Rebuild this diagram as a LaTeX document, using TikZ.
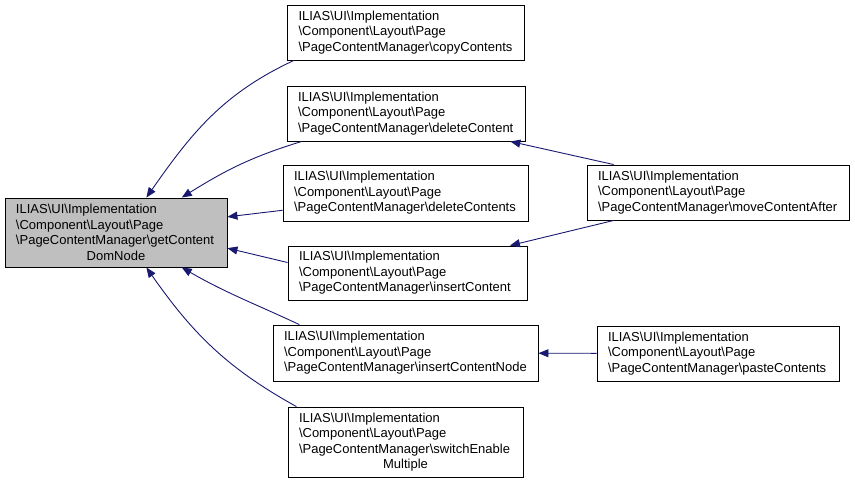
\documentclass[tikz,border=0pt]{standalone}
\usepackage{fontspec}
\setmainfont{Liberation Sans}
\usetikzlibrary{arrows.meta}
\definecolor{edgeblue}{HTML}{191970}
\definecolor{maingray}{HTML}{BFBFBF}
\newcommand{\bs}{\textbackslash}
\newcommand{\pcm}{ILIAS\bs UI\bs Implementation\\\bs Component\bs Layout\bs Page\\\bs PageContentManager\bs}
\begin{document}
\begin{tikzpicture}[x=1pt,y=-1pt,
    func/.style={draw=black, line width=0.9pt, fill=white, align=left,
      font=\fontsize{13}{15.5}\selectfont, inner xsep=11pt, inner ysep=0pt},
    caller/.style={draw=edgeblue, line width=0.9pt, -{Triangle[length=10pt,width=8pt]}}]
    \useasboundingbox (0,0) rectangle (855,482);

    \node [func, fill=maingray, text width=200pt, minimum height=69pt] (main) at (116, 232.5)
      {\pcm getContent\\\makebox[\hsize]{DomNode}};
    \node [func, text width=215pt, minimum height=55pt] (copy) at (406, 32.5) {\pcm copyContents};
    \node [func, text width=216pt, minimum height=55pt] (delC) at (406, 113.5) {\pcm deleteContent};
    \node [func, text width=223pt, minimum height=56pt] (delCs) at (405.5, 193) {\pcm deleteContents};
    \node [func, text width=217pt, minimum height=54pt] (ins) at (407.5, 273) {\pcm insertContent};
    \node [func, text width=243pt, minimum height=56pt] (insN) at (405.5, 353) {\pcm insertContentNode};
    \node [func, text width=213pt, minimum height=70pt] (sw) at (405.5, 442)
      {\pcm switchEnable\\\makebox[\hsize]{Multiple}};
    \node [func, text width=240pt, minimum height=55pt] (move) at (718, 192.5) {\pcm moveContentAfter};
    \node [func, text width=220pt, minimum height=55pt] (paste) at (718, 353.5) {\pcm pasteContents};

    \draw [caller] (copy.194) to[out=205, in=55] (main.49);
    \draw [caller] (delC.195) to[out=197, in=32] (main.28);
    \draw [caller] (delCs.188) -- (main.8);
    \draw [caller] (ins.175) -- (main.-8);
    \draw [caller] (insN.165) to[out=155, in=-30] (main.-28);
    \draw [caller] (sw.162) to[out=151, in=-55] (main.-49);
    \draw [caller] (move.165) -- (delC.-15);
    \draw [caller] (move.195) -- (ins.15);
    \draw [caller] (paste) -- (insN);
  \end{tikzpicture}
\end{document}
